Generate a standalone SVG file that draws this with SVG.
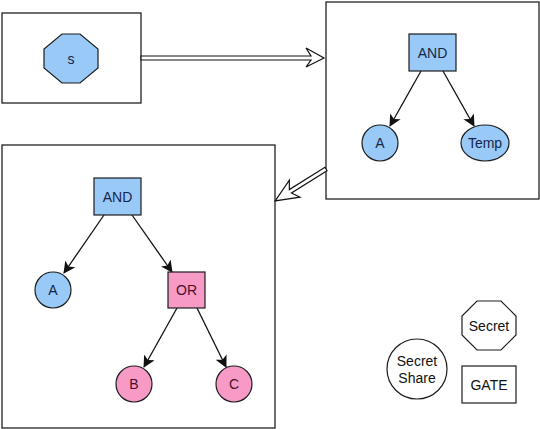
<svg xmlns="http://www.w3.org/2000/svg" width="540" height="429" viewBox="0 0 540 429">
<defs>
<style>
.frame{fill:#fff;stroke:#222;stroke-width:1.3}
.blue{fill:#99c9f7;stroke:#1d1d1d;stroke-width:1.2}
.pink{fill:#f79ac6;stroke:#1d1d1d;stroke-width:1.2}
.leg{fill:#fff;stroke:#1d1d1d;stroke-width:1.2}
.t{font-family:"Liberation Sans",Arial,sans-serif;font-size:14px;text-anchor:middle;dominant-baseline:central}
.tb{fill:#15264a}
.tp{fill:#4a0f2a}
.tk{fill:#111}
.edge{stroke:#111;stroke-width:1.3;fill:none;marker-end:url(#ah)}
.big{fill:#fff;stroke:#111;stroke-width:1.2;stroke-linejoin:miter}
</style>
<marker id="ah" viewBox="0 0 12 12" refX="11" refY="6" markerWidth="12" markerHeight="12" markerUnits="userSpaceOnUse" orient="auto">
<path d="M0,0 L12,6 L0,12 L3,6 Z" fill="#111"/>
</marker>
</defs>
<rect width="540" height="429" fill="#fff"/>

<g id="frame1"><rect class="frame" x="2" y="13" width="139" height="90"/></g>
<g id="frame2"><rect class="frame" x="326" y="2" width="213" height="197"/></g>
<g id="frame3"><rect class="frame" x="2" y="145" width="273" height="283"/></g>

<g id="connectors">
<path class="big" d="M141,56 L311,56 L306,48 L324,58 L306,67 L311,60 L141,60 Z"/>
<path class="big" transform="translate(326,169) rotate(147.9)" d="M0,-2 L42,-2 L37,-10 L60,0 L37,10 L42,2 L0,2 Z"/>
<line class="edge" x1="421" y1="71" x2="390" y2="126"/>
<line class="edge" x1="443" y1="71" x2="474" y2="126"/>
<line class="edge" x1="104" y1="215" x2="64" y2="273"/>
<line class="edge" x1="132" y1="215" x2="172" y2="272"/>
<line class="edge" x1="177" y1="308" x2="144" y2="367"/>
<line class="edge" x1="197" y1="308" x2="226" y2="367"/>
</g>

<g id="node-s">
<polygon class="blue" points="62,34 80,34 98,49 98,68 80,83 62,83 44,68 44,49"/>
<text class="t tb" x="71" y="59">s</text>
</g>

<g id="node-and1">
<rect class="blue" x="409" y="34" width="47" height="37"/>
<text class="t tb" x="432.5" y="52.5">AND</text>
</g>
<g id="node-a1">
<circle class="blue" cx="380" cy="143" r="18"/>
<text class="t tb" x="380" y="143">A</text>
</g>
<g id="node-temp">
<ellipse class="blue" cx="485" cy="143" rx="24" ry="18"/>
<text class="t tb" x="485" y="143">Temp</text>
</g>

<g id="node-and2">
<rect class="blue" x="94" y="178" width="47" height="37"/>
<text class="t tb" x="117.5" y="196.5">AND</text>
</g>
<g id="node-a2">
<circle class="blue" cx="53" cy="290" r="18"/>
<text class="t tb" x="53" y="290">A</text>
</g>
<g id="node-or">
<rect class="pink" x="168" y="272" width="37" height="36"/>
<text class="t tp" x="186.5" y="290">OR</text>
</g>
<g id="node-b">
<circle class="pink" cx="134" cy="384" r="18"/>
<text class="t tp" x="134" y="384">B</text>
</g>
<g id="node-c">
<circle class="pink" cx="234" cy="384" r="18"/>
<text class="t tp" x="234" y="384">C</text>
</g>

<g id="legend-secret">
<polygon class="leg" points="477,301 501,301 516,316 516,335 501,350 477,350 462,335 462,316"/>
<text class="t tk" x="489" y="325.5">Secret</text>
</g>
<g id="legend-share">
<circle class="leg" cx="417" cy="369" r="30"/>
<text class="t tk" x="417" y="361">Secret</text>
<text class="t tk" x="417" y="378">Share</text>
</g>
<g id="legend-gate">
<rect class="leg" x="462" y="366" width="54" height="37"/>
<text class="t tk" x="489" y="384.5">GATE</text>
</g>
</svg>
